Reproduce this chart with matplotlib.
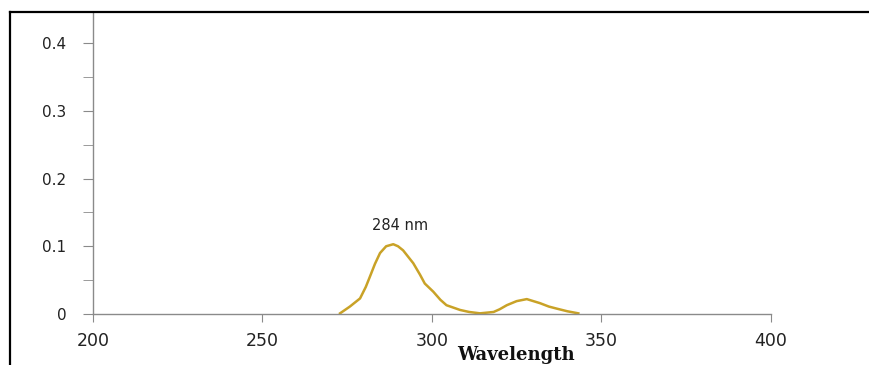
import numpy as np
import matplotlib
matplotlib.use("Agg")
from matplotlib import pyplot as plt
from matplotlib.lines import Line2D

# spectrum
wavelength = [272.9, 275.8, 278.8, 280.5, 281.7, 283.2, 284.7, 286.5, 288.6, 290.0,
              291.5, 294.5, 296.5, 297.9, 300.4, 302.5, 304.3, 308.3, 311.0, 314.2,
              318.2, 320.0, 322.1, 325.0, 328.0, 331.9, 334.5, 336.8, 340.0, 343.2]
absorbance = [0.001, 0.011, 0.023, 0.040, 0.055, 0.074, 0.090, 0.100, 0.103, 0.100,
              0.094, 0.075, 0.058, 0.045, 0.033, 0.021, 0.013, 0.006, 0.003, 0.001,
              0.003, 0.007, 0.013, 0.019, 0.022, 0.016, 0.011, 0.008, 0.004, 0.001]

x_ticks = [200, 250, 300, 350, 400]
y_ticks = [0, 0.1, 0.2, 0.3, 0.4]
y_labels = ["0", "0.1", "0.2", "0.3", "0.4"]
peak_label = "284 nm"
peak_pos = (290.6, 0.13)

fig = plt.figure(figsize=(8.69, 3.65), dpi=100)
ax = fig.add_axes([0.107, 0.1397, 0.780, 0.8247])

ax.plot(wavelength, absorbance, color="#C9A227", lw=1.8)
ax.text(peak_pos[0], peak_pos[1], peak_label, ha="center", va="center",
        fontsize=10.5, color="#222222")

ax.set_xlim(200, 400)
ax.set_ylim(0, 0.4443)
ax.set_xticks(x_ticks)
ax.set_yticks(y_ticks)
ax.set_yticklabels(y_labels)
ax.set_yticks(np.arange(0.05, 0.44, 0.1), minor=True)

for s in ["top", "right"]:
    ax.spines[s].set_visible(False)
for s in ["left", "bottom"]:
    ax.spines[s].set_color("#8a8a8a")
    ax.spines[s].set_linewidth(1.0)

ax.tick_params(axis="y", which="both", direction="out", length=7, color="#8a8a8a",
               labelsize=11, pad=12, labelcolor="#222222")
ax.tick_params(axis="x", which="major", direction="out", length=6, color="#8a8a8a",
               labelsize=12.5, pad=7, labelcolor="#222222")

fig.text(516 / 869, 1 / 365, "Wavelength", ha="center", va="bottom",
         fontsize=13, fontweight="bold", family="DejaVu Serif", color="#111111")

# black frame around the pasted figure
fig.add_artist(Line2D([10 / 869, 10 / 869], [0, 1 - 12 / 365], color="black", lw=1.6,
                      transform=fig.transFigure))
fig.add_artist(Line2D([10 / 869, 1], [1 - 12 / 365, 1 - 12 / 365], color="black", lw=1.6,
                      transform=fig.transFigure))

plt.savefig("out.png", dpi=100)
